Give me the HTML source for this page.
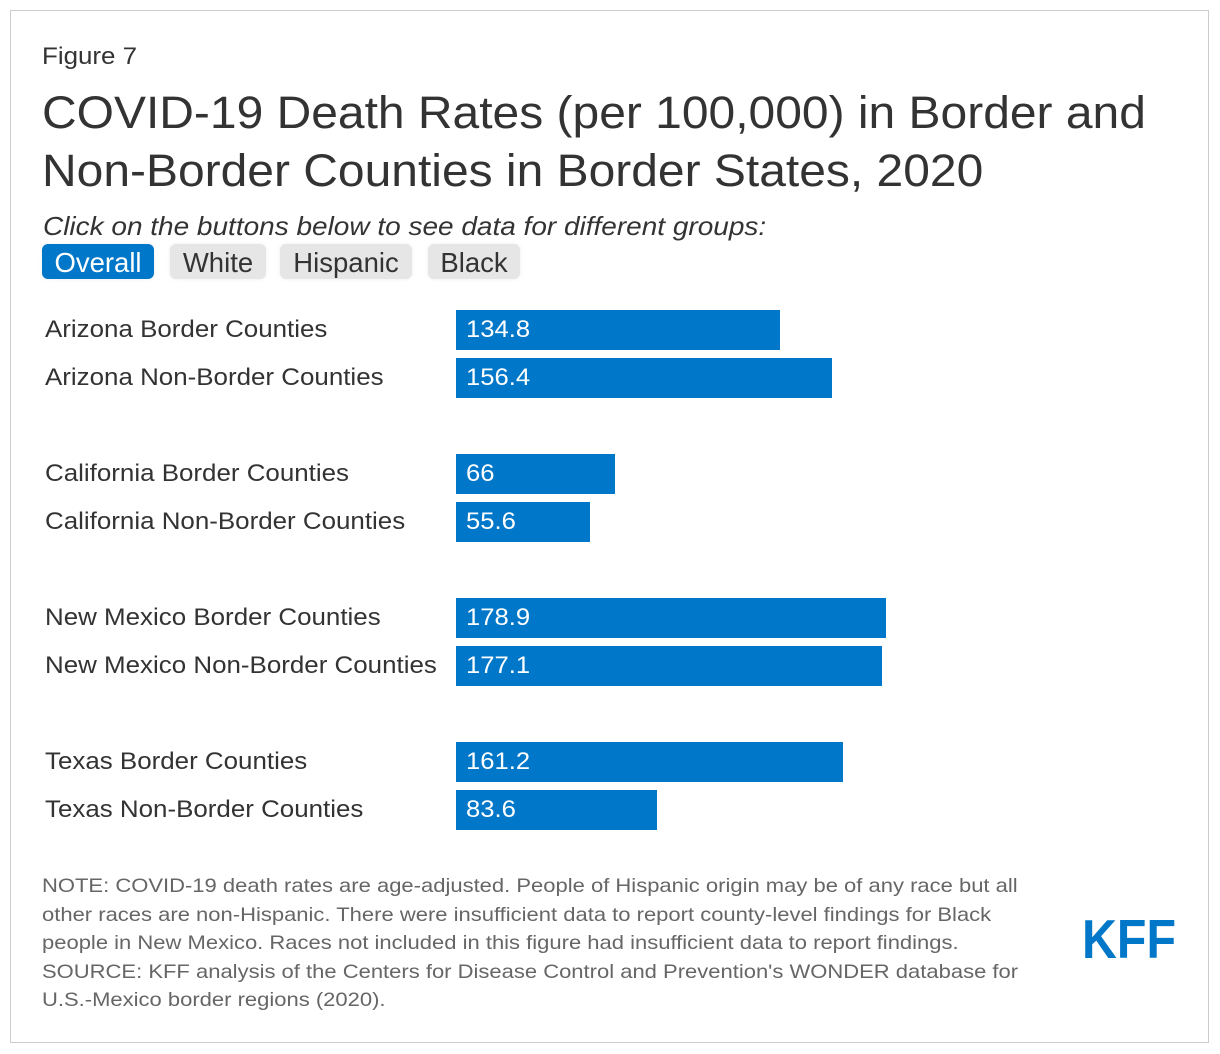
<!DOCTYPE html>
<html><head><meta charset="utf-8"><style>
body{margin:0;background:#fff;font-family:"Liberation Sans",Arial,sans-serif;color:#333;}
#frame{position:absolute;left:10px;top:10px;width:1197px;height:1031px;border:1px solid #ccc;}
.abs{position:absolute;white-space:nowrap;transform-origin:0 0;}
.btn{position:absolute;top:244px;height:35px;border-radius:6px;background:#e6e6e6;font-size:27.5px;line-height:37px;text-align:center;color:#333;box-shadow:0 0 4px #eee;}
.lbl{position:absolute;left:45px;font-size:24px;color:#333;white-space:nowrap;transform:scaleX(1.08);transform-origin:0 0;}
.bar{position:absolute;left:456px;height:40px;background:#0077c8;}
.val{position:absolute;font-size:24px;color:#fff;transform:scaleX(1.067);transform-origin:0 0;}
.note{position:absolute;left:42px;top:872px;font-size:19.5px;line-height:28.5px;color:#666;white-space:nowrap;transform:scaleX(1.128);transform-origin:0 0;}
</style></head><body>
<div id="frame"></div>
<div class="abs" style="left:42px;top:43px;font-size:24px;transform:scaleX(1.08);">Figure 7</div>
<div class="abs" style="left:42px;top:84px;font-size:45px;line-height:58px;color:#333;transform:scaleX(1.066);">COVID-19 Death Rates (per 100,000) in Border and<br>Non-Border Counties in Border States, 2020</div>
<div class="abs" style="left:43px;top:211px;font-size:26px;font-style:italic;transform:scaleX(1.076);">Click on the buttons below to see data for different groups:</div>
<div class="btn" style="left:42px;width:112px;background:#0077c8;color:#fff;">Overall</div>
<div class="btn" style="left:170px;width:96px;">White</div>
<div class="btn" style="left:280px;width:132px;">Hispanic</div>
<div class="btn" style="left:428px;width:92px;">Black</div>
<div id="chart"></div>
<div class="note">NOTE: COVID-19 death rates are age-adjusted. People of Hispanic origin may be of any race but all<br>other races are non-Hispanic. There were insufficient data to report county-level findings for Black<br>people in New Mexico. Races not included in this figure had insufficient data to report findings.<br>SOURCE: KFF analysis of the Centers for Disease Control and Prevention's WONDER database for<br>U.S.-Mexico border regions (2020).</div>
<svg class="abs" style="left:1078px;top:910px;" width="104" height="56"><text x="4" y="48" font-family="Liberation Sans, sans-serif" font-weight="bold" font-size="55" fill="#0077c8" textLength="94" lengthAdjust="spacingAndGlyphs">KFF</text></svg>
<script>
const categories=["Arizona Border Counties","Arizona Non-Border Counties","California Border Counties","California Non-Border Counties","New Mexico Border Counties","New Mexico Non-Border Counties","Texas Border Counties","Texas Non-Border Counties"];
const values=[134.8,156.4,66,55.6,178.9,177.1,161.2,83.6];
const groups=[0,0,1,1,2,2,3,3];
const chart=document.getElementById('chart');
function xScale(v){return v*2.4036;}
function yPos(i){return 310+i*48+groups[i]*48;}
categories.forEach((c,i)=>{
  const y=yPos(i);
  const l=document.createElement('div');
  l.className='lbl';l.style.top=(y+6)+'px';l.textContent=c;
  
  
  chart.appendChild(l);
  const b=document.createElement('div');
  b.className='bar';b.style.top=y+'px';b.style.width=xScale(values[i])+'px';
  
  
  chart.appendChild(b);
  const t=document.createElement('div');
  t.className='val';t.style.left='466px';t.style.top=(y+6)+'px';t.textContent=values[i];
  
  
  chart.appendChild(t);
});
</script>
</body></html>
